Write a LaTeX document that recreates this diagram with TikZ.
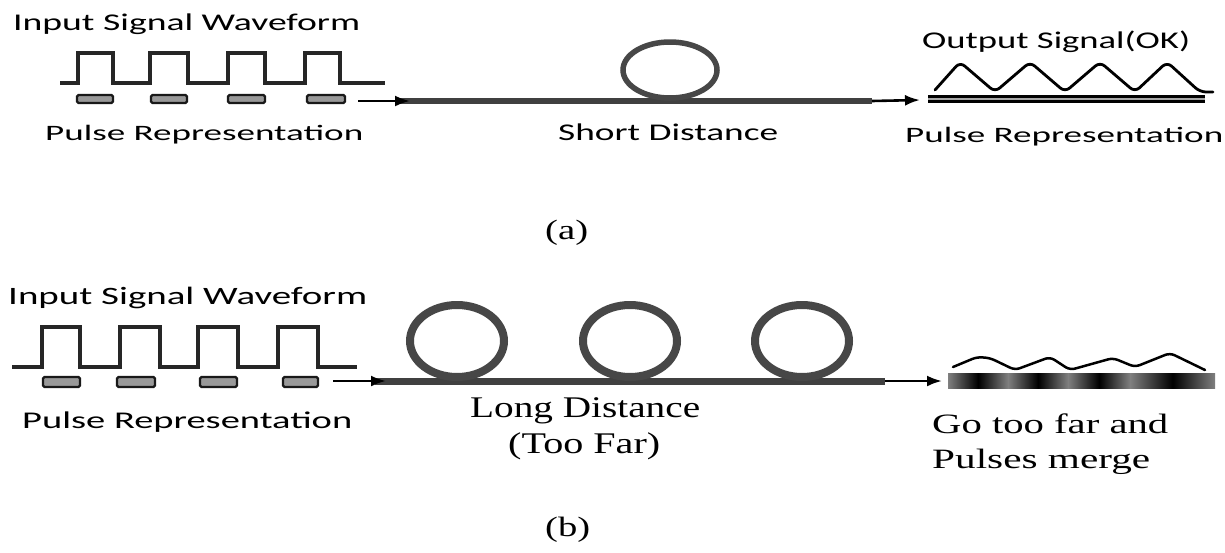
\documentclass[tikz,border=0pt]{standalone}
\usepackage{fontspec}
\setmainfont{Liberation Serif}
\newfontfamily\sansf{Carlito}
\usetikzlibrary{arrows.meta}
\newcommand{\fitw}[2]{\resizebox{#1}{\height}{#2}}
\tikzset{
  sq/.style={line width=3.2pt, black!85, line join=miter},
  pulse/.style={draw=black!90, line width=2.4pt, fill=black!40, rounded corners=1.5pt},
  fiba/.style={line width=5.5pt, black!75},
  fibb/.style={line width=7pt, black!75},
  loopa/.style={line width=5.5pt, black!72},
  loopb/.style={line width=8pt, black!72},
  feed/.style={line width=2.6pt, black, -{Latex[length=15pt,width=11pt]}},
  lbl/.style={inner sep=0pt, anchor=base west, font=\sansf\fontsize{24}{28}\selectfont},
  slbl/.style={inner sep=0pt, anchor=base west, font=\fontsize{30}{34}\selectfont},
  caplbl/.style={inner sep=0pt, anchor=base west, font=\fontsize{28}{32}\selectfont},
  wave/.style={line width=2.8pt, black, line join=round, line cap=round},
}
\begin{document}
\begin{tikzpicture}[x=1pt,y=-1pt]
\useasboundingbox (0,0) rectangle (1225,552);
\fill[white] (0,0) rectangle (1225,552);

% ---------- (a) ----------
\draw[sq] (60,83) -- (78,83) -- (78,53) -- (113,53) -- (113,83) -- (150,83) -- (150,53) -- (188,53) -- (188,83) -- (228,83) -- (228,53) -- (265,53) -- (265,83) -- (305,83) -- (305,53) -- (340,53) -- (340,83) -- (385,83);
\draw[pulse] (77,95) rectangle (113,103);
\draw[pulse] (151,95) rectangle (187,103);
\draw[pulse] (228,95) rectangle (265,103);
\draw[pulse] (307,95) rectangle (345,103);

\coordinate (a-in) at (358,101);
\coordinate (a-f1) at (400,101);
\coordinate (a-f2) at (872,101);
\coordinate (a-out) at (920,100);
\coordinate (a-d1) at (928,99);
\coordinate (a-d2) at (1205,99);
\draw[fiba] (a-f1) -- (a-f2);
\draw[loopa] (670,70) ellipse [x radius=47pt, y radius=28pt];
\draw[feed] (a-in) -- (410,101);
\draw[feed] (a-f2) -- (a-out);
\draw[line width=2.8pt, black, double=black!35, double distance=2.5pt] (a-d1) -- (a-d2);
\draw[wave, rounded corners=6pt] (935,90) -- (960,62) -- (995,92) -- (1030,62) -- (1065,92) -- (1100,62) -- (1135,92) -- (1167,62) -- (1200,92) -- (1213,92);

\node[lbl] (a-inlbl) at (13,30) {\fitw{347pt}{Input Signal Waveform}};
\node[lbl, font=\sansf\fontsize{22}{26}\selectfont] (a-plbl) at (45,140) {\fitw{318pt}{Pulse Representation}};
\node[lbl] (a-short) at (558,140) {\fitw{220pt}{Short Distance}};
\node[lbl] (a-outlbl) at (922,48) {\fitw{268pt}{Output Signal(OK)}};
\node[lbl, font=\sansf\fontsize{22}{26}\selectfont] (a-prlbl) at (905,142) {\fitw{318pt}{Pulse Representation}};
\node[caplbl] (a-cap) at (545,239) {\fitw{43pt}{(a)}};

% ---------- (b) ----------
\draw[sq] (12,367) -- (42,367) -- (42,327) -- (80,327) -- (80,367) -- (120,367) -- (120,327) -- (160,327) -- (160,367) -- (198,367) -- (198,327) -- (238,327) -- (238,367) -- (278,367) -- (278,327) -- (318,327) -- (318,367) -- (357,367);
\draw[pulse] (43,377) rectangle (80,387);
\draw[pulse] (117,377) rectangle (155,387);
\draw[pulse] (200,377) rectangle (237,387);
\draw[pulse] (283,377) rectangle (318,387);

\coordinate (b-in) at (333,381);
\coordinate (b-f1) at (375,381);
\coordinate (b-f2) at (885,381);
\coordinate (b-out) at (942,381);
\draw[fibb] (b-f1) -- (b-f2);
\draw[loopb] (457,341) ellipse [x radius=47pt, y radius=36pt];
\draw[loopb] (630,341) ellipse [x radius=47pt, y radius=36pt];
\draw[loopb] (802,341) ellipse [x radius=47pt, y radius=36pt];
\draw[feed] (b-in) -- (386,381);
\draw[feed] (b-f2) -- (b-out);
\shade[left color=black!50, right color=black!50, middle color=black] (948,373) rectangle (1008,388);
\shade[left color=black!50, right color=black!50, middle color=black] (1008,373) rectangle (1068,388);
\shade[left color=black!50, right color=black!50, middle color=black] (1068,373) rectangle (1130,388);
\shade[left color=black!50, right color=black!50, middle color=black] (1130,373) rectangle (1215,388);
\draw[wave, line width=2.5pt, rounded corners=5pt] (953,367) -- (977,357) -- (990,358) -- (1015,370) -- (1050,357) -- (1070,370) -- (1113,358) -- (1135,367) -- (1170,353) -- (1205,370);

\node[lbl, font=\sansf\fontsize{25}{29}\selectfont] (b-inlbl) at (8,304) {\fitw{359pt}{Input Signal Waveform}};
\node[lbl] (b-plbl) at (22,428) {\fitw{330pt}{Pulse Representation}};
\node[slbl] (b-long) at (470,417) {\fitw{230pt}{Long Distance}};
\node[slbl] (b-far) at (508,453) {\fitw{152pt}{(Too Far)}};
\node[caplbl] (b-go) at (932,433) {\fitw{236pt}{Go too far and}};
\node[caplbl] (b-merge) at (932,468) {\fitw{218pt}{Pulses merge}};
\node[caplbl] (b-cap) at (545,536) {\fitw{45pt}{(b)}};
\end{tikzpicture}
\end{document}
